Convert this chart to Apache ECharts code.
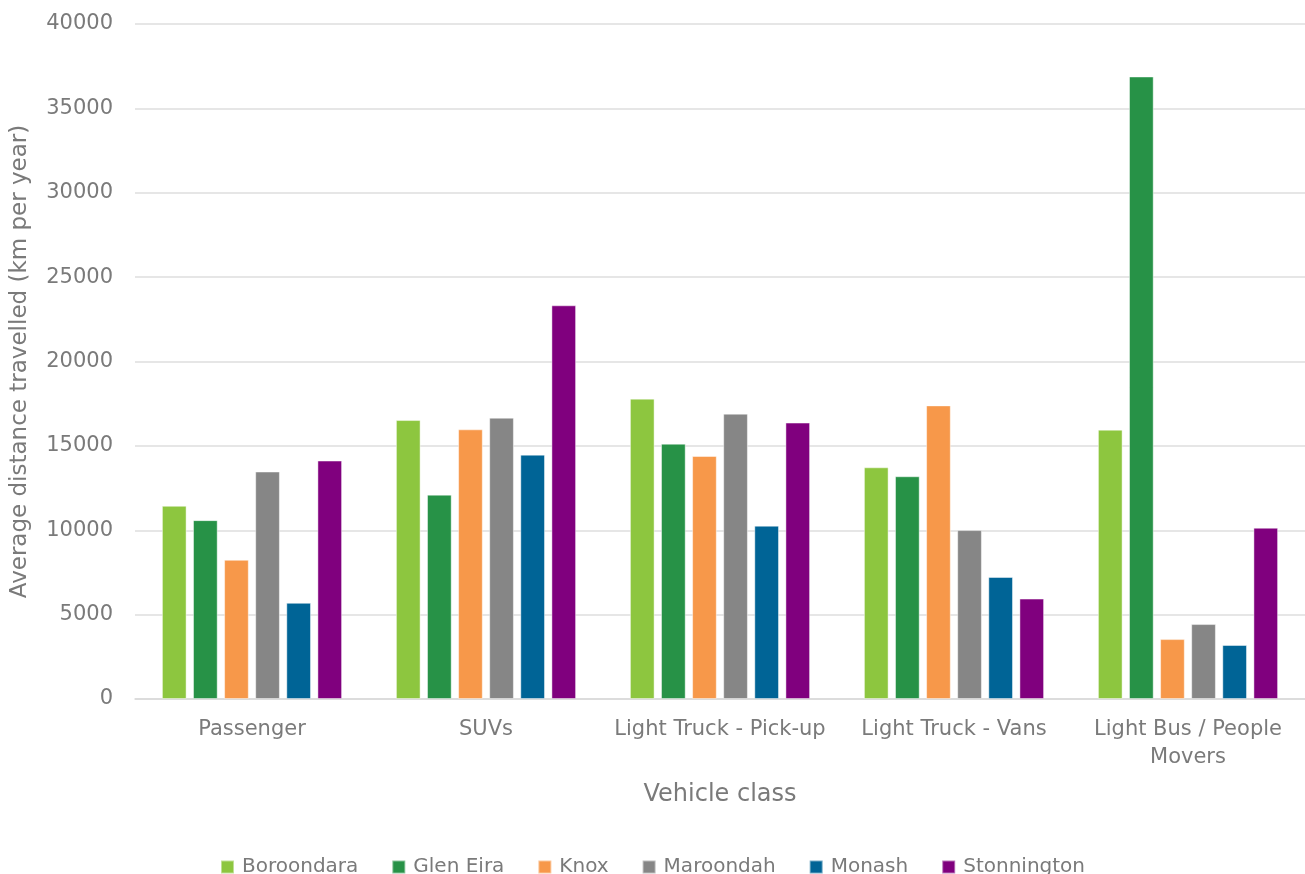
<!DOCTYPE html>
<html>
<head>
<meta charset="utf-8">
<script src="https://cdn.jsdelivr.net/npm/echarts@6/dist/echarts.min.js"></script>
<style>
  html, body { margin: 0; padding: 0; background: #fff; }
  #main { width: 1305px; height: 874px; }
</style>
</head>
<body>
<div id="main"></div>
<script>
// vehicle classes on the x axis
var categories = ['Passenger', 'SUVs', 'Light Truck - Pick-up', 'Light Truck - Vans', 'Light Bus / People\nMovers'];

// average km per year, one array per council
var boroondara  = [11450, 16530, 17800, 13730, 15960];
var glenEira    = [10600, 12110, 15130, 13200, 36890];
var knox        = [8250, 15980, 14400, 17400, 3550];
var maroondah   = [13480, 16670, 16910, 10010, 4440];
var monash      = [5700, 14480, 10270, 7230, 3200];
var stonnington = [14130, 23330, 16380, 5950, 10150];

var seriesNames = ['Boroondara', 'Glen Eira', 'Knox', 'Maroondah', 'Monash', 'Stonnington'];
var seriesData = [boroondara, glenEira, knox, maroondah, monash, stonnington];
var colorlist = ['#8DC63F', '#279247', '#F7984A', '#868686', '#006496', '#80007E'];

var font = '"DejaVu Sans", sans-serif';
var textColor = '#7a7a7a';

var series = [];
for (var i in seriesData) {
    series.push({
        name: seriesNames[i],
        type: 'bar',
        barGap: '26%',
        barCategoryGap: '23%',
        itemStyle: {
            color: colorlist[i],
            borderColor: 'rgba(255,255,255,0.45)',
            borderWidth: 1
        },
        data: seriesData[i]
    });
}

var myChart = echarts.init(document.getElementById('main'));
var option = {
    animation: false,
    textStyle: { fontFamily: font },
    grid: {
        left: 135,
        right: 0,
        top: 24,
        bottom: 175,
        containLabel: false,
        outerBoundsMode: 'none'
    },
    legend: {
        data: seriesNames,
        top: 852,
        left: 'center',
        icon: 'rect',
        itemWidth: 13,
        itemHeight: 13,
        itemGap: 33,
        textStyle: { color: textColor, fontSize: 20, fontFamily: font, padding: [0, 0, 0, 3] }
    },
    xAxis: {
        type: 'category',
        data: categories,
        name: 'Vehicle class',
        nameLocation: 'middle',
        nameGap: 84,
        nameTextStyle: { color: textColor, fontSize: 24, fontFamily: font },
        axisLine: { lineStyle: { color: '#d9d9d9', width: 1.5 } },
        axisTick: { show: false },
        axisLabel: {
            color: textColor,
            fontSize: 21,
            fontFamily: font,
            margin: 17,
            lineHeight: 28,
            interval: 0
        }
    },
    yAxis: {
        type: 'value',
        min: 0,
        max: 40000,
        interval: 5000,
        name: 'Average distance travelled (km per year)',
        nameLocation: 'middle',
        nameGap: 103,
        nameTextStyle: { color: textColor, fontSize: 23, fontFamily: font },
        axisLine: { show: false },
        axisTick: { show: false },
        axisLabel: {
            color: textColor,
            fontSize: 21,
            fontFamily: font,
            margin: 22,
            formatter: function(v) { return String(v); }
        },
        splitLine: { lineStyle: { color: '#dedede', width: 1.5 } }
    },
    series: series
};
myChart.setOption(option);
</script>
</body>
</html>
